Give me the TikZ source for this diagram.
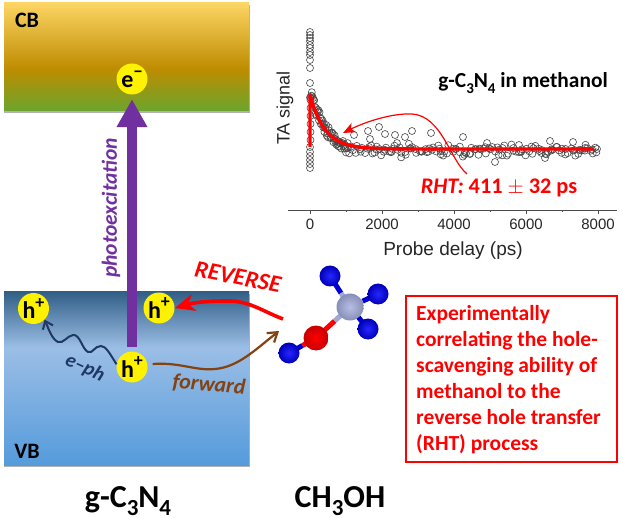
\documentclass[tikz,border=0pt]{standalone}
\usepackage{fontspec}
\setmainfont{Carlito}
\newfontfamily\plotfont{Liberation Sans}
\usetikzlibrary{arrows.meta,shadings,calc}
\definecolor{cbA}{RGB}{107,165,45}
\definecolor{cbB}{RGB}{190,140,0}
\definecolor{cbC}{RGB}{253,213,100}
\definecolor{vbA}{RGB}{85,155,220}
\definecolor{vbB}{RGB}{155,190,230}
\definecolor{vbC}{RGB}{50,95,135}
\definecolor{purp}{RGB}{112,48,160}
\definecolor{brownarrow}{RGB}{132,66,16}
\definecolor{navyarrow}{RGB}{31,56,100}
\definecolor{redline}{RGB}{255,0,0}
\definecolor{carbon}{RGB}{160,168,216}
\definecolor{hblue}{RGB}{0,0,210}
\pgfdeclareverticalshading{cbshade}{100bp}{color(0bp)=(cbA);color(25bp)=(cbA);color(44.5bp)=(cbB);color(75bp)=(cbC);color(100bp)=(cbC)}
\pgfdeclareverticalshading{vbshade}{100bp}{color(0bp)=(vbA);color(25bp)=(vbA);color(59bp)=(vbB);color(75bp)=(vbC);color(100bp)=(vbC)}
\newcommand{\sbs}[2]{\raisebox{-0.24em}{\fontsize{#1}{#1}\selectfont #2}}
\newcommand{\sps}[1]{\raisebox{0.42em}{\fontsize{18}{18}\selectfont #1}}
\tikzset{
  bandshadow/.style={fill=black!55,draw=none,opacity=.55},
  carrier/.style={circle,fill=yellow,draw=none,minimum size=31pt,inner sep=0pt,font=\fontsize{24}{24}\selectfont\bfseries},
  lab/.style={font=\fontsize{22}{22}\selectfont\bfseries},
  big/.style={font=\fontsize{32}{32}\selectfont\bfseries},
  datum/.style={draw=black!72,line width=.6pt},
  tickmark/.style={draw=black!70,line width=.8pt},
  ticklab/.style={font=\plotfont\fontsize{15}{15}\selectfont,text=black!85},
  bond/.style={line width=5pt},
  atom/.style={circle,minimum size=#1,inner sep=0pt},
  blueball/.style={atom=21pt,inner color=blue!85!white,outer color=blue!72!black},
}
\begin{document}
\begin{tikzpicture}[x=1pt,y=-1pt]
\useasboundingbox (0,0) rectangle (623,518);
\fill[white] (0,0) rectangle (623,518);
% bands
\fill[bandshadow] (4,5) rectangle (250,113);
\shade[shading=cbshade] (4,3) rectangle (249,111);
\fill[bandshadow] (4,294) rectangle (250,467);
\shade[shading=vbshade] (4,292) rectangle (249,465);
\node[lab] (cb) at (27,20) {CB};
\node[lab] (vb) at (27,451) {VB};
% carriers
\node[carrier] (e) at (132,79) {e\sps{−}};
\node[carrier] (h1) at (33.5,308.5) {h\sps{+}};
\node[carrier] (h3) at (159,308) {h\sps{+}};
\node[carrier] (h2) at (132,367) {h\sps{+}};
% photoexcitation
\draw[purp,line width=9.5pt,-{Triangle[length=28pt,width=29pt]},shorten >=4.5pt,shorten <=4.5pt] (h2.north) -- (e.south);
\node[text=purp,rotate=90,font=\fontsize{21.5}{21.5}\selectfont\bfseries\itshape] (pe) at (111,208) {photoexcitation};
% e-ph
\draw[navyarrow,line width=2pt,-{Straight Barb[length=7pt,width=11pt]}] (h2.170) .. controls (110,354) and (106,346) .. (101,346)
  .. controls (94,346) and (93,354) .. (88,352) .. controls (82,349) and (80,334) .. (73,335)
  .. controls (67,336) and (63,344) .. (58,342) .. controls (52,339) and (49,330) .. (h1.south east);
\node[text=navyarrow,rotate=-25,font=\fontsize{20}{20}\selectfont\itshape\bfseries] (eph) at (85,368) {e–ph};
% forward
\coordinate (molin) at (279,331);
\draw[brownarrow,line width=2.2pt,-{Straight Barb[length=9pt,width=12pt]}] ($(h2.east)+(5,-3)$) .. controls (180,362) and (195,371) .. (215,369) .. controls (238,367) and (255,350) .. (molin);
\node[text=brownarrow,rotate=-5,font=\fontsize{21.8}{21.8}\selectfont\bfseries\itshape] (fw) at (209,385) {forward};
% reverse
\coordinate (molout) at (283,319);
\draw[redline,line width=3.6pt,-{Stealth[length=20pt,width=17pt,inset=6pt]}] (molout) .. controls (262,311) and (248,300) .. (226,301) .. controls (210,301) and (196,302) .. (h3.east);
\node[text=redline,rotate=-11,font=\fontsize{24}{24}\selectfont\bfseries\itshape] (rev) at (238,277) {REVERSE};
% molecule
\coordinate (Cc) at (350,307);
\coordinate (Oc) at (316,338);
\coordinate (Ha) at (330,276);
\coordinate (Hb) at (378,294);
\coordinate (Hc) at (368,329);
\coordinate (Hd) at (289,353);
\draw[bond,hblue] (Ha) -- ($(Ha)!.55!(Cc)$);
\draw[bond,carbon] ($(Ha)!.55!(Cc)$) -- (Cc);
\draw[bond,hblue] (Hb) -- ($(Hb)!.55!(Cc)$);
\draw[bond,carbon] ($(Hb)!.55!(Cc)$) -- (Cc);
\draw[bond,hblue] (Hc) -- ($(Hc)!.55!(Cc)$);
\draw[bond,carbon] ($(Hc)!.55!(Cc)$) -- (Cc);
\draw[bond,redline] (Oc) -- ($(Oc)!.55!(Cc)$);
\draw[bond,carbon] ($(Oc)!.55!(Cc)$) -- (Cc);
\draw[bond,hblue] (Hd) -- ($(Hd)!.5!(Oc)$);
\draw[bond,redline] ($(Hd)!.5!(Oc)$) -- (Oc);
\node[blueball] (atomHa) at (Ha) {};
\node[blueball] (atomHb) at (Hb) {};
\node[blueball] (atomHc) at (Hc) {};
\node[blueball] (atomHd) at (Hd) {};
\node[atom=27pt,inner color=carbon!75!white,outer color=carbon!85!black] (atomC) at (Cc) {};
\node[atom=25pt,inner color=red,outer color=red!78!black] (atomO) at (Oc) {};
% titles
\node[big] (gcn) at (128,501) {g-C\sbs{23}{3}N\sbs{23}{4}};
\node[big] (ch) at (340,501) {CH\sbs{23}{3}OH};
% text box
\node[draw=redline,line width=1.5pt,fill=white,minimum width=211pt,minimum height=166pt,inner sep=0pt] (box) at (511.5,379) {};
\node[text=redline,font=\fontsize{21.5}{26}\selectfont\bfseries,align=left,inner sep=0pt,anchor=north west] (boxtext) at (416,305)
  {Experimentally\\correlating the hole-\\scavenging ability of\\methanol to the\\reverse hole transfer\\(RHT) process};
% plot data
\pgfmathsetseed{4217}
\foreach \yy in {32,35,38,41,45,48,52,55,60,68,83,147,152,156,160,164,168} \draw[datum] (310,\yy) circle (3.5pt);
\foreach \i in {0,...,60}{
  \pgfmathsetmacro{\dd}{\i*0.6}
  \pgfmathsetmacro{\yy}{155-63*exp(-\dd/18)+6*rand}
  \draw[datum] ({310+\dd},\yy) circle (3.5pt);
}
\foreach \yy in {100,108,116,124,132,140} \draw[datum] (310.5,\yy) circle (3.5pt);
\foreach \i in {0,...,140}{
  \pgfmathsetmacro{\xx}{345+\i*1.8+rand*1.5}
  \pgfmathsetmacro{\yy}{150.5+4*rand+4*rand}
  \draw[datum] (\xx,\yy) circle (3.5pt);
}
\foreach \xx/\yy in {379/127,412/131,431/133,463/137,495/162,368/131,545/158,573/142,585/148,354/135,385/134,395/135,397/143,405/137,370/139,550/141,519/145,487/143,597/149}
  \draw[datum] (\xx,\yy) circle (3.5pt);
% fit
\draw[redline,line width=3.4pt,line join=round] (310,147) -- (310,95) -- plot[domain=0:284,samples=90,smooth] ({310+\x},{149-54*exp(-\x/14.8)});
\coordinate (lblfoot) at (467,174);
\coordinate (fitpt) at (343,133);
\draw[redline,line width=1.2pt,-{Stealth[length=12pt,width=10pt,inset=3pt]}] (lblfoot) .. controls (450,160) and (442,116) .. (412,114) .. controls (392,113) and (365,122) .. (fitpt);
\node[text=redline,font=\fontsize{22.3}{22.3}\selectfont\bfseries] (rht) at (499,188) {\textit{RHT:} 411 $\pm$ 32 ps};
\node[font=\fontsize{21.4}{21.4}\selectfont\bfseries] (ttl) at (523,83) {g-C\sbs{15}{3}N\sbs{15}{4} in methanol};
% axes
\draw[tickmark] (288,210) -- (617,210);
\foreach \xx in {310,382,454,526,598} \draw[tickmark] (\xx,210) -- (\xx,214);
\foreach \xx in {346,418,490,562} \draw[tickmark] (\xx,210) -- (\xx,212);
\node[ticklab] (t0) at (310,224) {0};
\node[ticklab] (t1) at (382,224) {2000};
\node[ticklab] (t2) at (454,224) {4000};
\node[ticklab] (t3) at (526,224) {6000};
\node[ticklab] (t4) at (598,224) {8000};
\node[font=\plotfont\fontsize{19}{19}\selectfont,text=black!85] (xl) at (453,251) {Probe delay (ps)};
\node[font=\plotfont\fontsize{18}{18}\selectfont,text=black!85,rotate=90] (yl) at (285,108) {TA signal};
\end{tikzpicture}
\end{document}
